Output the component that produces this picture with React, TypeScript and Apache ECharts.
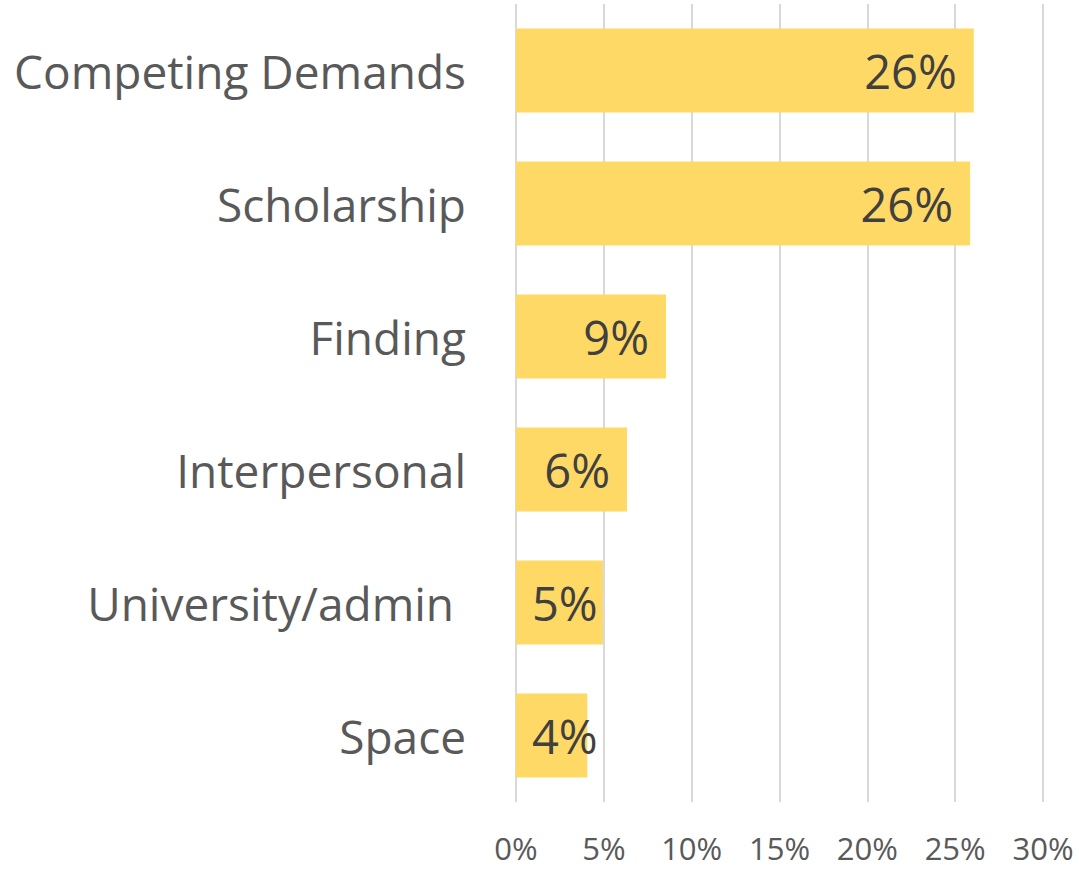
import React, { useEffect, useRef } from "react";
import * as echarts from "echarts";

const categories = [
  "Competing Demands",
  "Scholarship",
  "Finding",
  "Interpersonal",
  "University/admin\u00a0",
  "Space",
];
const values = [26.06, 25.85, 8.54, 6.32, 4.95, 4.06];
const axisMax = 30;
const axisStep = 5;

const FONT = "'Open Sans', sans-serif";

export default function App() {
  const ref = useRef<HTMLDivElement>(null);
  useEffect(() => {
    if (!ref.current) return;
    const chart = echarts.init(ref.current, undefined, { renderer: "svg" });
    chart.setOption({
      animation: false,
      backgroundColor: "#ffffff",
      grid: { left: 516, right: 36, top: 4, bottom: 67, containLabel: false },
      xAxis: {
        type: "value",
        min: 0,
        max: axisMax,
        interval: axisStep,
        axisLine: { show: false },
        axisTick: { show: false },
        splitLine: { show: true, lineStyle: { color: "#d9d9d9", width: 2 } },
        axisLabel: {
          formatter: "{value}%",
          color: "#595959",
          fontSize: 31,
          fontFamily: FONT,
          margin: 30,
        },
      },
      yAxis: {
        type: "category",
        data: categories,
        inverse: true,
        axisLine: { show: false },
        axisTick: { show: false },
        axisLabel: {
          color: "#595959",
          fontSize: 46,
          fontFamily: FONT,
          margin: 50,
        },
      },
      series: [
        {
          type: "bar",
          barWidth: "63%",
          itemStyle: { color: "#FFD966" },
          data: values.map((v) => ({
            value: v,
            label:
              v < 5.5
                ? { position: "insideLeft", distance: 16 }
                : { position: "insideRight", distance: 17 },
          })),
          label: {
            show: true,
            color: "#404040",
            fontSize: 47,
            fontFamily: FONT,
            formatter: (p: any) => Math.round(p.value) + "%",
          },
        },
      ],
    });
    return () => chart.dispose();
  }, []);
  return (
    <div
      ref={ref}
      style={{ position: "fixed", left: 0, top: 0, width: 1079, height: 869 }}
    />
  );
}
